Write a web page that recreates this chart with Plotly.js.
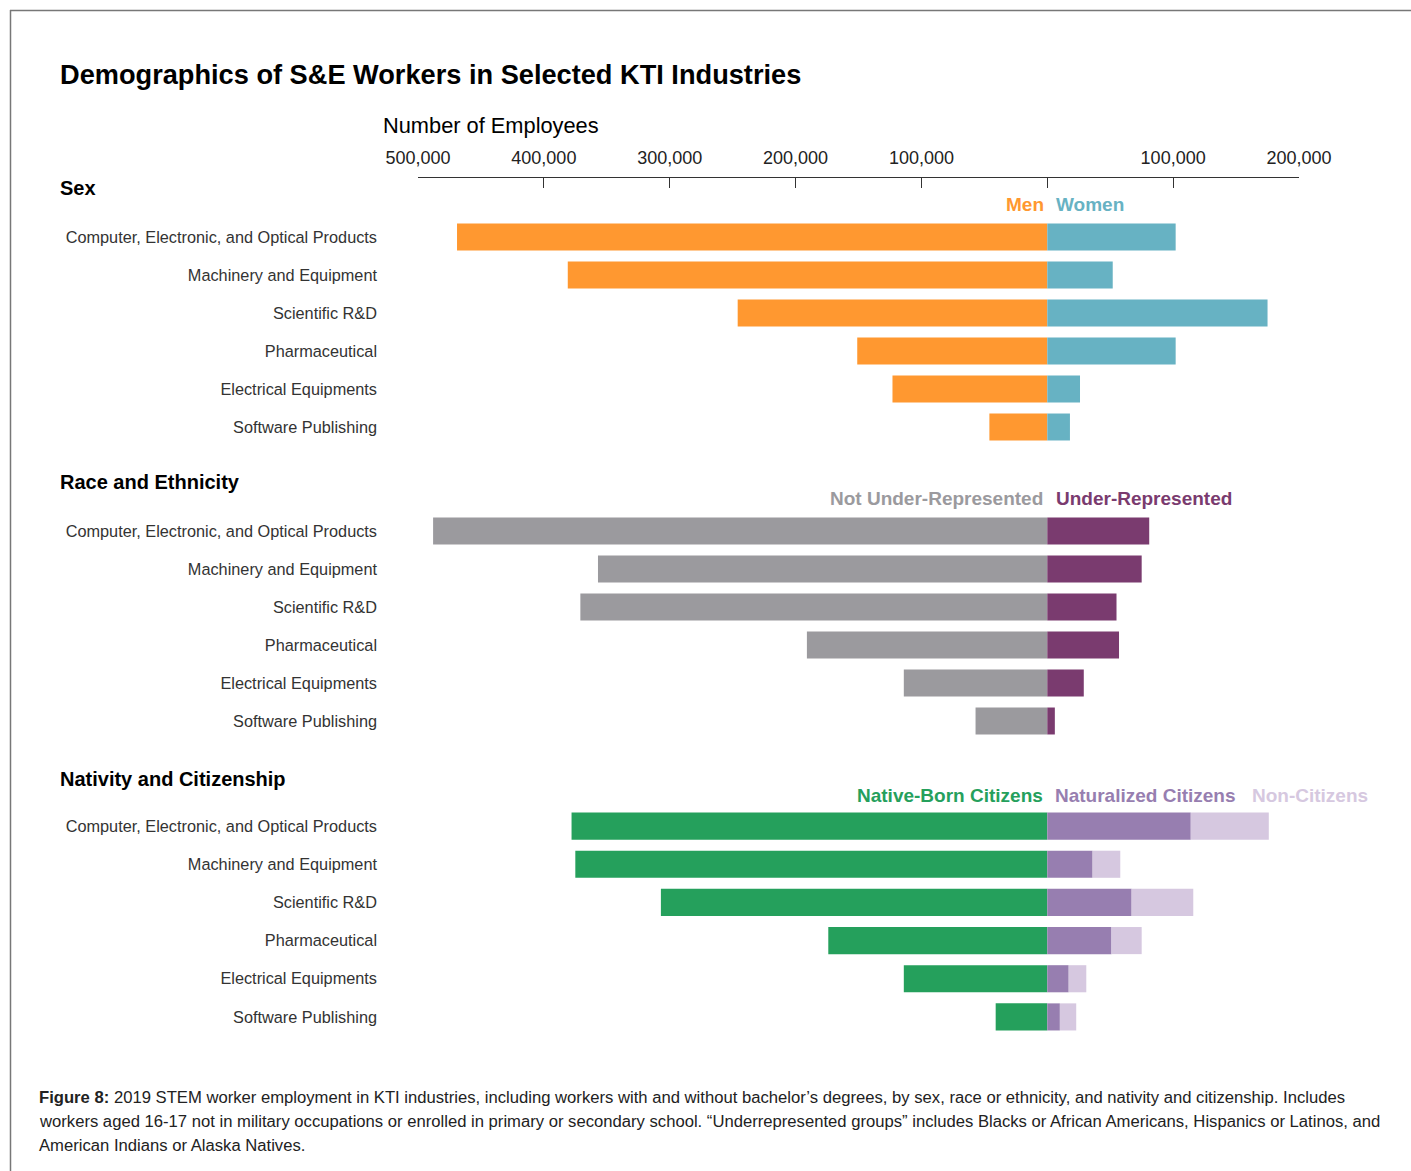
<!DOCTYPE html>
<html>
<head>
<meta charset="utf-8">
<script src="https://cdn.plot.ly/plotly-3.0.1.min.js"></script>
<style>html,body{margin:0;padding:0;background:#fff;}#chart{width:1411px;height:1171px;}</style>
</head>
<body>
<div id="chart"></div>
<script>
const categories = ["Computer, Electronic, and Optical Products", "Machinery and Equipment", "Scientific R&D", "Pharmaceutical", "Electrical Equipments", "Software Publishing"];
const tickValues = [-500000, -400000, -300000, -200000, -100000, 0, 100000, 200000];
const tickLabels = ["500,000", "400,000", "300,000", "200,000", "100,000", "", "100,000", "200,000"];

const men = [469000, 381000, 246000, 151000, 123000, 46000];
const women = [102000, 52000, 175000, 102000, 26000, 18000];
const notUnderRepresented = [488000, 357000, 371000, 191000, 114000, 57000];
const underRepresented = [81000, 75000, 55000, 57000, 29000, 6000];
const nativeBorn = [378000, 375000, 307000, 174000, 114000, 41000];
const naturalized = [114000, 36000, 67000, 51000, 17000, 10000];
const nonCitizens = [62000, 22000, 49000, 24000, 14000, 13000];

const W = 1411, H = 1171;
const L = 418, R = 1299, T = 177, B = 1040;
const px = x => (x - L) / (R - L);
const py = y => (B - y) / (B - T);

const C = {
  men: '#ff9830', women: '#67b2c3',
  notUR: '#9b9a9e', ur: '#7a3b6f',
  native: '#25a05c', natur: '#977eb0', nonc: '#d6c8e0'
};

function bar(name, vals, color, yaxis, neg) {
  return {
    type: 'bar', orientation: 'h', name: name,
    y: categories,
    x: vals.map(v => neg ? -v : v),
    customdata: vals,
    hovertemplate: name + ': %{customdata:,}<extra></extra>',
    marker: {color: color, line: {width: 0}},
    xaxis: 'x', yaxis: yaxis, showlegend: false
  };
}

const data = [
  bar('Men', men, C.men, 'y', true),
  bar('Women', women, C.women, 'y', false),
  bar('Not Under-Represented', notUnderRepresented, C.notUR, 'y2', true),
  bar('Under-Represented', underRepresented, C.ur, 'y2', false),
  bar('Native-Born Citizens', nativeBorn, C.native, 'y3', true),
  bar('Naturalized Citizens', naturalized, C.natur, 'y3', false),
  bar('Non-Citizens', nonCitizens, C.nonc, 'y3', false)
];

const FONT = 'Liberation Sans, Arial, Helvetica, sans-serif';
const yBase = {
  type: 'category', autorange: 'reversed', anchor: 'x',
  showline: false, ticks: '', showgrid: false, zeroline: false,
  tickfont: {family: FONT, size: 16.3, color: '#333'},
  ticklabelstandoff: 40, fixedrange: true
};

function ann(text, x, y, opts) {
  const o = Object.assign({xanchor: 'left'}, opts || {});
  const dx = o.xanchor === 'right' ? 3 : -2;
  return Object.assign({
    text: text, xref: 'paper', yref: 'paper', x: px(x + dx), y: py(y),
    yanchor: 'middle', showarrow: false,
    font: {family: FONT, size: 17, color: '#111'}
  }, o);
}
const bold = c => ({family: FONT, size: 19, color: c, weight: 'bold'});
const capFont = {family: FONT, size: 16.65, color: '#222'};

const annotations = [
  ann('<b>Demographics of S&E Workers in Selected KTI Industries</b>', 60, 74, {font: {family: FONT, size: 27.2, color: '#000'}}),
  ann('Number of Employees', 383, 126, {font: {family: FONT, size: 21.8, color: '#000'}}),
  ann('<b>Sex</b>', 60, 188, {font: {family: FONT, size: 20, color: '#000'}}),
  ann('<b>Race and Ethnicity</b>', 60, 482, {font: {family: FONT, size: 20, color: '#000'}}),
  ann('<b>Nativity and Citizenship</b>', 60, 779, {font: {family: FONT, size: 20, color: '#000'}}),
  ann('Men', 1043, 205, {xanchor: 'right', font: bold(C.men)}),
  ann('Women', 1056, 205, {font: bold(C.women)}),
  ann('Not Under-Represented', 1042, 499, {xanchor: 'right', font: bold(C.notUR)}),
  ann('Under-Represented', 1056, 499, {font: bold(C.ur)}),
  ann('Native-Born Citizens', 1042, 795, {xanchor: 'right', font: bold(C.native)}),
  ann('Naturalized Citizens', 1055, 795, {font: bold(C.natur)}),
  ann('Non-Citizens', 1252, 795, {font: bold(C.nonc)}),
  ann('<b>Figure 8:</b> 2019 STEM worker employment in KTI industries, including workers with and without bachelor\u2019s degrees, by sex, race or ethnicity, and nativity and citizenship. Includes', 39, 1097, {font: capFont}),
  ann('workers aged 16-17 not in military occupations or enrolled in primary or secondary school. \u201cUnderrepresented groups\u201d includes Blacks or African Americans, Hispanics or Latinos, and', 39, 1121, {font: capFont}),
  ann('American Indians or Alaska Natives.', 39, 1145, {font: capFont})
];

const shapes = [
  {type: 'line', xref: 'paper', yref: 'paper', x0: px(10), x1: px(1411), y0: py(10.5), y1: py(10.5), line: {color: '#777', width: 1.5}},
  {type: 'line', xref: 'paper', yref: 'paper', x0: px(10.5), x1: px(10.5), y0: py(10), y1: py(1171), line: {color: '#777', width: 1.5}}
];

const layout = {
  width: W, height: H,
  margin: {l: L, r: W - R, t: T, b: H - B, pad: 0},
  paper_bgcolor: '#fff', plot_bgcolor: 'rgba(0,0,0,0)',
  barmode: 'relative', bargap: 0.29,
  font: {family: FONT},
  xaxis: {
    range: [-500000, 200000], side: 'top', anchor: 'free', position: 1,
    tickvals: tickValues, ticktext: tickLabels,
    ticks: 'inside', ticklen: 10, tickwidth: 1.3, tickcolor: '#333',
    showline: true, linecolor: '#333', linewidth: 1.3,
    showgrid: false, zeroline: false, fixedrange: true,
    tickfont: {family: FONT, size: 18, color: '#222'}, ticklabelstandoff: 6
  },
  yaxis: Object.assign({}, yBase, {domain: [py(446), py(218)]}),
  yaxis2: Object.assign({}, yBase, {domain: [py(740), py(512)]}),
  yaxis3: Object.assign({}, yBase, {domain: [py(1036), py(807)]}),
  annotations: annotations,
  shapes: shapes
};

Plotly.newPlot('chart', data, layout, {displayModeBar: false});
</script>
</body>
</html>
